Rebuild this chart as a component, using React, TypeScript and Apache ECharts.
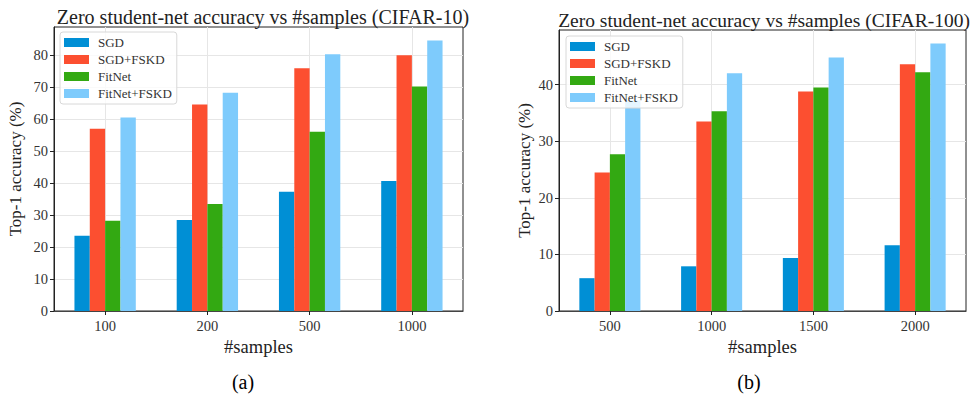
import React, { useEffect, useRef } from "react";
import * as echarts from "echarts";

const seriesNames = ["SGD", "SGD+FSKD", "FitNet", "FitNet+FSKD"];
const colors = ["#008fd5", "#fc4f30", "#33a912", "#7ecbfc"];

const catsA = ["100", "200", "500", "1000"];
const sgdA = [23.5, 28.5, 37.3, 40.7];
const sgdFskdA = [57.0, 64.6, 75.9, 80.0];
const fitnetA = [28.2, 33.5, 56.1, 70.2];
const fitnetFskdA = [60.5, 68.3, 80.3, 84.6];

const catsB = ["500", "1000", "1500", "2000"];
const sgdB = [5.8, 7.9, 9.35, 11.6];
const sgdFskdB = [24.5, 33.5, 38.8, 43.6];
const fitnetB = [27.7, 35.3, 39.5, 42.2];
const fitnetFskdB = [37.2, 42.0, 44.8, 47.3];

const ticksA = [0, 10, 20, 30, 40, 50, 60, 70, 80];
const ticksB = [0, 10, 20, 30, 40];

const titleA = "Zero student-net accuracy vs #samples (CIFAR-10)";
const titleB = "Zero student-net accuracy vs #samples (CIFAR-100)";
const yName = "Top-1 accuracy (%)";
const xName = "#samples";

const FONT = "Liberation Serif";

export default function App() {
  const ref = useRef<HTMLDivElement>(null);
  useEffect(() => {
    if (!ref.current) return;
    const chart = echarts.init(ref.current, null, { renderer: "svg" });
    const dataA = [sgdA, sgdFskdA, fitnetA, fitnetFskdA];
    const dataB = [sgdB, sgdFskdB, fitnetB, fitnetFskdB];
    const maxA = Math.max(...fitnetFskdA) * 1.05;
    const maxB = Math.max(...fitnetFskdB) * 1.05;

    const labelStyle = { fontFamily: FONT, fontSize: 14.5, color: "#333" };
    const nameXStyle = { fontFamily: FONT, fontSize: 18.5, color: "#222" };
    const nameYStyle = { fontFamily: FONT, fontSize: 17, color: "#222" };

    const xAxisBase = (gridIndex: number, cats: string[]) => ({
      type: "category",
      gridIndex,
      data: cats,
      boundaryGap: true,
      name: "{n|" + xName + "}",
      nameLocation: "middle",
      nameGap: 24,
      nameTextStyle: { ...nameXStyle, rich: { n: nameXStyle } },
      axisLine: { show: true, lineStyle: { color: "#444", width: 1.2 } },
      axisTick: { show: true, alignWithLabel: true, length: 4, lineStyle: { color: "#222" } },
      axisLabel: {
        ...labelStyle, margin: 7,
        formatter: (v: string) => "{l|" + v + "}",
        rich: { l: labelStyle },
      },
      splitLine: { show: true, alignWithLabel: true, lineStyle: { color: "#e6e6e6", width: 1 } },
    });
    const yAxisBase = (gridIndex: number, max: number, ticks: number[], gap: number) => ({
      type: "value",
      gridIndex,
      min: 0,
      max,
      interval: 10,
      name: "{n|" + yName + "}",
      nameLocation: "middle",
      nameRotate: 90,
      nameGap: gap,
      nameTextStyle: { ...nameYStyle, rich: { n: nameYStyle } },
      axisLine: { show: true, lineStyle: { color: "#222" } },
      axisTick: { show: true, length: 4, customValues: ticks, lineStyle: { color: "#222" } },
      axisLabel: {
        ...labelStyle, margin: 6, customValues: ticks,
        formatter: (v: number) => "{l|" + v + "}",
        rich: { l: labelStyle },
      },
      splitLine: { show: true, lineStyle: { color: "#e6e6e6", width: 1 } },
    });

    const series: any[] = [];
    seriesNames.forEach((name, i) => {
      series.push({
        type: "bar", name, xAxisIndex: 0, yAxisIndex: 0, data: dataA[i],
        barWidth: "15%", barGap: "0%", itemStyle: { color: colors[i] },
      });
    });
    seriesNames.forEach((name, i) => {
      series.push({
        type: "bar", name, xAxisIndex: 1, yAxisIndex: 1, data: dataB[i],
        barWidth: "15%", barGap: "0%", itemStyle: { color: colors[i] },
      });
    });

    const legendBase = (left: number, top: number) => ({
      orient: "vertical",
      left, top,
      data: seriesNames,
      icon: "rect",
      itemWidth: 25,
      itemHeight: 9,
      itemGap: 4,
      padding: [4, 5, 4, 4],
      backgroundColor: "rgba(255,255,255,0.8)",
      borderColor: "#d8d8d8",
      borderWidth: 1,
      borderRadius: 3,
      textStyle: { fontFamily: FONT, fontSize: 13, color: "#333", lineHeight: 12, padding: [0, 0, 0, 4] },
      selectedMode: false,
    });

    const titleStyle = { fontFamily: FONT, fontSize: 20, fontWeight: "normal", color: "#222" };
    const titleStyleB = { fontFamily: FONT, fontSize: 19.5, fontWeight: "normal", color: "#222" };
    const capStyle = { fontFamily: FONT, fontSize: 20, lineHeight: 20, fontWeight: "normal", color: "#000" };

    chart.setOption({
      animation: false,
      backgroundColor: "#fff",
      textStyle: { fontFamily: FONT },
      title: [
        { text: titleA, left: 258, top: 2, textAlign: "center", textStyle: titleStyle },
        { text: titleB, left: 759, top: 5, textAlign: "center", textStyle: titleStyleB },
        { text: "(a)", left: 238, top: 367, textAlign: "center", textStyle: capStyle },
        { text: "(b)", left: 744, top: 367, textAlign: "center", textStyle: capStyle },
      ],
      legend: [legendBase(60, 32), legendBase(566, 36)],
      grid: [
        { left: 54, top: 27, width: 409, height: 284, show: true, borderColor: "#222", borderWidth: 1, backgroundColor: "transparent" },
        { left: 559, top: 30, width: 407, height: 281, show: true, borderColor: "#222", borderWidth: 1, backgroundColor: "transparent" },
      ],
      xAxis: [xAxisBase(0, catsA), xAxisBase(1, catsB)],
      yAxis: [yAxisBase(0, maxA, ticksA, 30), yAxisBase(1, maxB, ticksB, 26)],
      series,
    });
    return () => chart.dispose();
  }, []);
  return (
    <div
      ref={ref}
      style={{ position: "absolute", left: 0, top: 0, width: 972, height: 394, background: "#fff" }}
    />
  );
}
